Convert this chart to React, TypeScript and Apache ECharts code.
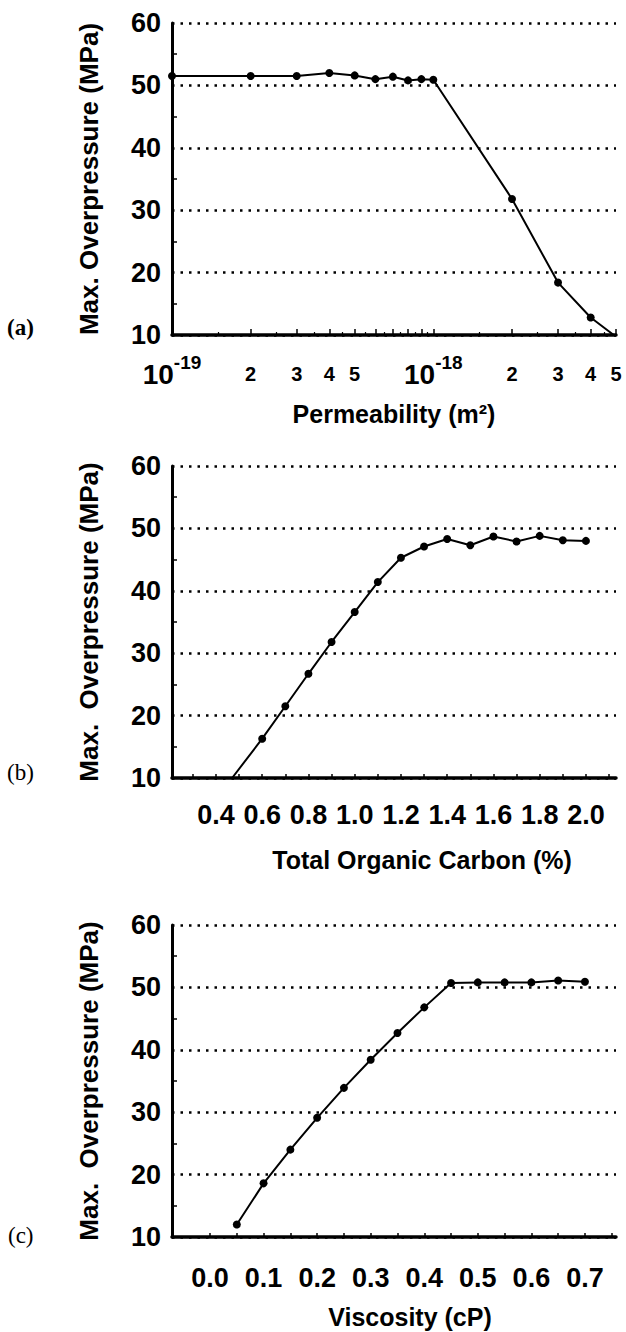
import React, { useEffect, useRef } from "react";
import * as echarts from "echarts";

// ---------- data ----------
// (a) permeability (m^2) vs max overpressure (MPa)
const permeability = [1e-19, 2e-19, 3e-19, 4e-19, 5e-19, 6e-19, 7e-19, 8e-19, 9e-19, 1e-18, 2e-18, 3e-18, 4e-18, 4.9e-18];
const overpressureA = [51.5, 51.5, 51.5, 52.0, 51.6, 51.0, 51.4, 50.8, 51.0, 50.9, 31.8, 18.4, 12.8, 10.0];
const markerA = [true, true, true, true, true, true, true, true, true, true, true, true, true, false];
const permLabelValues = [1e-19, 2e-19, 3e-19, 4e-19, 5e-19, 1e-18, 2e-18, 3e-18, 4e-18, 5e-18];
const permLabelBase = ["10", "2", "3", "4", "5", "10", "2", "3", "4", "5"];
const permLabelSup = ["-19", "", "", "", "", "-18", "", "", "", ""];
const permTicks = [1e-19, 2e-19, 3e-19, 4e-19, 5e-19, 6e-19, 7e-19, 8e-19, 9e-19, 1e-18, 2e-18, 3e-18, 4e-18, 5e-18];
const permHalfTicks = [1.5e-19, 2.5e-19, 3.5e-19, 4.5e-19, 5.5e-19, 6.5e-19, 7.5e-19, 8.5e-19, 9.5e-19, 1.5e-18, 2.5e-18, 3.5e-18, 4.5e-18];
const permMin = 1e-19;
const permMax = 5e-18;

// (b) total organic carbon (%) vs max overpressure (MPa)
const toc = [0.47, 0.6, 0.7, 0.8, 0.9, 1.0, 1.1, 1.2, 1.3, 1.4, 1.5, 1.6, 1.7, 1.8, 1.9, 2.0];
const overpressureB = [10.0, 16.3, 21.5, 26.7, 31.8, 36.6, 41.4, 45.3, 47.1, 48.3, 47.3, 48.7, 47.9, 48.8, 48.1, 48.0];
const markerB = [false, true, true, true, true, true, true, true, true, true, true, true, true, true, true, true];
const tocLabels = [0.4, 0.6, 0.8, 1.0, 1.2, 1.4, 1.6, 1.8, 2.0];
const tocTicks = [0.3, 0.4, 0.5, 0.6, 0.7, 0.8, 0.9, 1.0, 1.1, 1.2, 1.3, 1.4, 1.5, 1.6, 1.7, 1.8, 1.9, 2.0, 2.1];

// (c) viscosity (cP) vs max overpressure (MPa)
const viscosity = [0.05, 0.1, 0.15, 0.2, 0.25, 0.3, 0.35, 0.4, 0.45, 0.5, 0.55, 0.6, 0.65, 0.7];
const overpressureC = [12.0, 18.6, 24.0, 29.1, 33.9, 38.4, 42.7, 46.8, 50.7, 50.8, 50.8, 50.8, 51.1, 50.9];
const markerC = [true, true, true, true, true, true, true, true, true, true, true, true, true, true];
const viscLabels = [0.0, 0.1, 0.2, 0.3, 0.4, 0.5, 0.6, 0.7];
const viscTicks = [0.0, 0.05, 0.1, 0.15, 0.2, 0.25, 0.3, 0.35, 0.4, 0.45, 0.5, 0.55, 0.6, 0.65, 0.7, 0.75];

const yMin = 10;
const yMax = 60;
const yStep = 10;

const panelLetters = ["(a)", "(b)", "(c)"];
const xTitles = ["Permeability (m²)", "Total Organic Carbon (%)", "Viscosity (cP)"];
const yTitles = ["Max. Overpressure (MPa)", "Max.\u00a0 Overpressure (MPa)", "Max.\u00a0 Overpressure (MPa)"];

// ---------- layout ----------
const W = 626;
const H = 1332;
const GRID_LEFT = 172;
const GRID_W = 444;
const GRID_H = 312;
const GRID_TOPS = [23, 466, 925];
const FONT = "'Liberation Sans', Arial, Helvetica, sans-serif";
const SERIF = "'Liberation Serif', 'Times New Roman', serif";

const lx = (p: number) => Math.log10(p / permMin);

function yAxisFor(i: number) {
  return {
    type: "value",
    gridIndex: i,
    min: yMin,
    max: yMax,
    interval: yStep,
    name: yTitles[i],
    nameLocation: "middle",
    nameRotate: 90,
    nameGap: 70,
    nameTextStyle: { fontFamily: FONT, fontWeight: "bold", fontSize: 26, color: "#000" },
    axisLine: { show: true, onZero: false, lineStyle: { color: "#000", width: 3 } },
    axisTick: { show: true, inside: true, length: 0.01, lineStyle: { color: "#000", width: 1 } },
    minorTick: { show: true, splitNumber: 2, length: 5, lineStyle: { color: "#000", width: 1.5 } },
    axisLabel: { fontFamily: FONT, fontWeight: "bold", fontSize: 27, color: "#000", margin: 11 },
    splitLine: { show: true, lineStyle: { color: "#000", width: 2.5, type: [2.5, 6] } },
    minorSplitLine: { show: false },
  };
}

function lineSeries(xIdx: number, yIdx: number, xs: number[], ys: number[], marks: boolean[]) {
  return {
    type: "line",
    xAxisIndex: xIdx,
    yAxisIndex: yIdx,
    data: xs.map((x, k) => ({ value: [x, ys[k]], symbol: marks[k] ? "circle" : "none" })),
    symbol: "circle",
    symbolSize: 8,
    showSymbol: true,
    clip: false,
    lineStyle: { color: "#000", width: 2 },
    itemStyle: { color: "#000" },
    z: 5,
  };
}

function buildOption() {
  const permLabelPos = permLabelValues.map(lx);
  const permFormatter = (v: number) => {
    let best = 0;
    for (let k = 1; k < permLabelPos.length; k++) {
      if (Math.abs(permLabelPos[k] - v) < Math.abs(permLabelPos[best] - v)) best = k;
    }
    return permLabelSup[best]
      ? `{b|${permLabelBase[best]}}{s|${permLabelSup[best]}}`
      : `{m|${permLabelBase[best]}}`;
  };

  const xLabelStyle = { fontFamily: FONT, fontWeight: "bold", fontSize: 27, color: "#000" };
  const xNameStyle = { fontFamily: FONT, fontWeight: "bold", fontSize: 25, color: "#000" };
  const xLine = { show: true, onZero: false, lineStyle: { color: "#000", width: 3.5 } };

  return {
    animation: false,
    backgroundColor: "#fff",
    grid: GRID_TOPS.map((t) => ({ left: GRID_LEFT, top: t, width: GRID_W, height: GRID_H, containLabel: false })),
    xAxis: [
      {
        type: "value",
        gridIndex: 0,
        min: lx(permMin),
        max: lx(permMax),
        position: "bottom",
        name: xTitles[0],
        nameLocation: "middle",
        nameGap: 66,
        nameTextStyle: { ...xNameStyle },
        axisLine: xLine,
        axisTick: {
          show: true,
          inside: true,
          length: 6,
          customValues: permTicks.map(lx),
          lineStyle: { color: "#000", width: 1.5 },
        },
        axisLabel: {
          customValues: permLabelPos,
          formatter: permFormatter,
          margin: 18,
          color: "#000",
          rich: {
            b: { fontFamily: FONT, fontWeight: "bold", fontSize: 28, color: "#000" },
            s: { fontFamily: FONT, fontWeight: "bold", fontSize: 19, color: "#000", padding: [0, 0, 24, 0] },
            m: { fontFamily: FONT, fontWeight: "bold", fontSize: 20, color: "#000", lineHeight: 42 },
          },
        },
        splitLine: { show: false },
      },
      {
        type: "value",
        gridIndex: 0,
        min: lx(permMin),
        max: lx(permMax),
        position: "bottom",
        axisLine: { show: false, onZero: false },
        axisTick: {
          show: true,
          inside: true,
          length: 3,
          customValues: permHalfTicks.map(lx),
          lineStyle: { color: "#000", width: 1.2 },
        },
        axisLabel: { show: false },
        splitLine: { show: false },
      },
      {
        type: "value",
        gridIndex: 1,
        min: 0.21,
        max: 2.13,
        position: "bottom",
        name: xTitles[1],
        nameLocation: "middle",
        nameGap: 69,
        nameTextStyle: { ...xNameStyle, padding: [0, 0, 0, 56] },
        axisLine: xLine,
        axisTick: { show: true, inside: true, length: 4, customValues: tocTicks, lineStyle: { color: "#000", width: 1.5 } },
        axisLabel: { ...xLabelStyle, margin: 23, customValues: tocLabels, formatter: (v: number) => v.toFixed(1) },
        splitLine: { show: false },
      },
      {
        type: "value",
        gridIndex: 2,
        min: -0.071,
        max: 0.758,
        position: "bottom",
        name: xTitles[2],
        nameLocation: "middle",
        nameGap: 67,
        nameTextStyle: { ...xNameStyle, padding: [0, 0, 0, 32] },
        axisLine: xLine,
        axisTick: { show: true, inside: true, length: 4, customValues: viscTicks, lineStyle: { color: "#000", width: 1.5 } },
        axisLabel: { ...xLabelStyle, margin: 27, customValues: viscLabels, formatter: (v: number) => v.toFixed(1) },
        splitLine: { show: false },
      },
    ],
    yAxis: [yAxisFor(0), yAxisFor(1), yAxisFor(2)],
    series: [
      lineSeries(0, 0, permeability.map(lx), overpressureA, markerA),
      lineSeries(2, 1, toc, overpressureB, markerB),
      lineSeries(3, 2, viscosity, overpressureC, markerC),
    ],
    graphic: [
      { type: "text", x: 7, y: 327, style: { text: panelLetters[0], fill: "#000", fontSize: 23, fontFamily: SERIF, fontWeight: "bold", verticalAlign: "middle" } },
      { type: "text", x: 7, y: 772, style: { text: panelLetters[1], fill: "#000", fontSize: 23, fontFamily: SERIF, fontWeight: "normal", verticalAlign: "middle" } },
      { type: "text", x: 8, y: 1235, style: { text: panelLetters[2], fill: "#000", fontSize: 23, fontFamily: SERIF, fontWeight: "normal", verticalAlign: "middle" } },
    ],
  };
}

export default function App() {
  const ref = useRef<HTMLDivElement>(null);
  useEffect(() => {
    if (!ref.current) return;
    const chart = echarts.init(ref.current, undefined, { renderer: "svg", width: W, height: H });
    chart.setOption(buildOption() as any);
    return () => chart.dispose();
  }, []);
  return (
    <div
      ref={ref}
      style={{ position: "absolute", left: 0, top: 0, width: W, height: H, background: "#fff" }}
    />
  );
}
